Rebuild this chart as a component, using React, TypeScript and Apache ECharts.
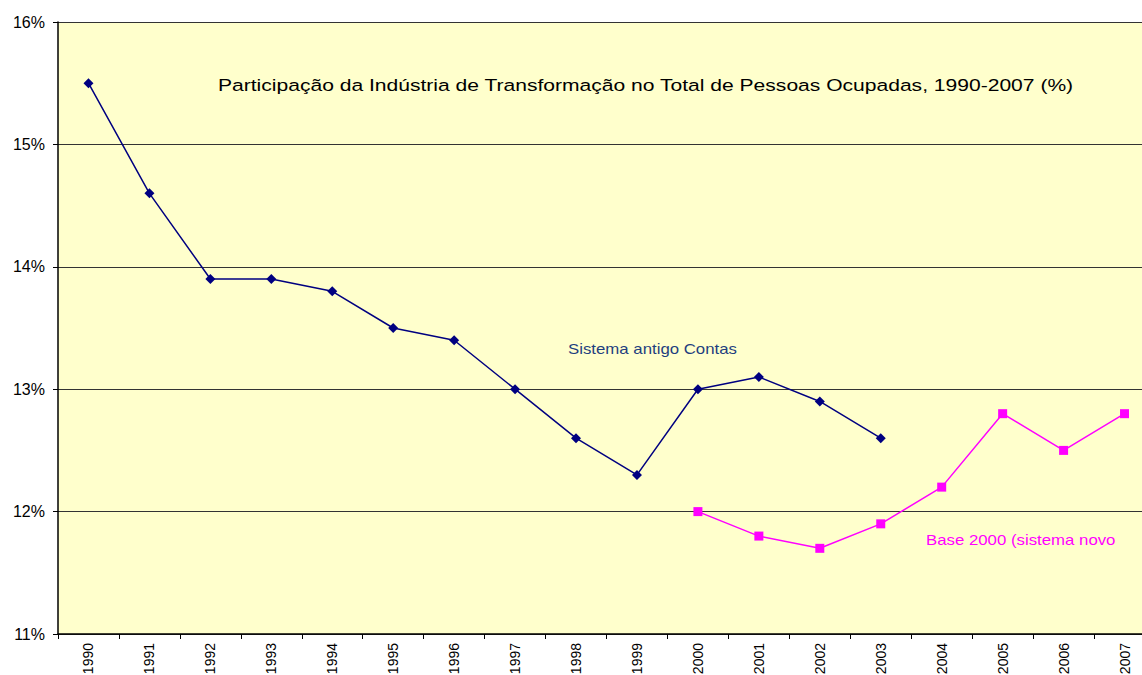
import React, { useEffect, useRef } from "react";
import * as echarts from "echarts";

const years = ["1990","1991","1992","1993","1994","1995","1996","1997","1998","1999","2000","2001","2002","2003","2004","2005","2006","2007"];
const sistemaAntigo = [15.5, 14.6, 13.9, 13.9, 13.8, 13.5, 13.4, 13.0, 12.6, 12.3, 13.0, 13.1, 12.9, 12.6, null, null, null, null];
const base2000 = [null, null, null, null, null, null, null, null, null, null, 12.0, 11.8, 11.7, 11.9, 12.2, 12.8, 12.5, 12.8];
const chartTitle = "Participação da Indústria de Transformação no Total de Pessoas Ocupadas, 1990-2007 (%)";
const labelAntigo = "Sistema antigo Contas";
const labelNovo = "Base 2000 (sistema novo";

export default function App() {
  const ref = useRef<HTMLDivElement>(null);
  useEffect(() => {
    const chart = echarts.init(ref.current!, null, { renderer: "svg" });
    const font = "'Liberation Sans', Arial, sans-serif";
    chart.setOption({
      animation: false,
      backgroundColor: "#ffffff",
      grid: { left: 58, top: 22, width: 1097, height: 612, backgroundColor: "#FFFFCC", show: true, borderWidth: 0, outerBoundsMode: "none" },
      xAxis: {
        type: "category",
        data: years,
        boundaryGap: true,
        axisLine: { lineStyle: { color: "#000", width: 1.5 } },
        axisTick: { show: true, alignWithLabel: false, length: 5, lineStyle: { color: "#000" } },
        axisLabel: { rotate: 90, color: "#000", fontFamily: font, fontSize: 14, margin: 9 },
      },
      yAxis: {
        type: "value",
        min: 11,
        max: 16,
        interval: 1,
        axisLine: { show: true, lineStyle: { color: "#000", width: 1.5 } },
        axisTick: { show: true, length: 5, lineStyle: { color: "#000" } },
        axisLabel: { formatter: "{value}%", color: "#000", fontFamily: font, fontSize: 16, margin: 13 },
        splitLine: { show: true, lineStyle: { color: "#333", width: 1 } },
      },
      series: [
        {
          type: "line",
          data: sistemaAntigo,
          connectNulls: false,
          symbol: "diamond",
          symbolSize: 10,
          lineStyle: { color: "#000080", width: 1.5 },
          itemStyle: { color: "#000080" },
        },
        {
          type: "line",
          data: base2000,
          connectNulls: false,
          symbol: "rect",
          symbolSize: 9,
          lineStyle: { color: "#FF00FF", width: 1.5 },
          itemStyle: { color: "#FF00FF" },
        },
      ],
      graphic: [
        { type: "text", x: 218, y: 77, scaleX: 1.24, style: { text: chartTitle, fill: "#000", font: `17px ${font}` }, z: 10 },
        { type: "text", x: 568, y: 342, scaleX: 1.2, style: { text: labelAntigo, fill: "#1F3F7F", font: `14px ${font}` }, z: 10 },
        { type: "text", x: 926, y: 533, scaleX: 1.2, style: { text: labelNovo, fill: "#FF00FF", font: `14px ${font}` }, z: 10 },
      ],
    });
    return () => chart.dispose();
  }, []);
  return (
    <div style={{ position: "fixed", left: 0, top: 0, width: 1142, height: 675, overflow: "hidden" }}>
      <div ref={ref} style={{ width: 1160, height: 675 }} />
    </div>
  );
}
